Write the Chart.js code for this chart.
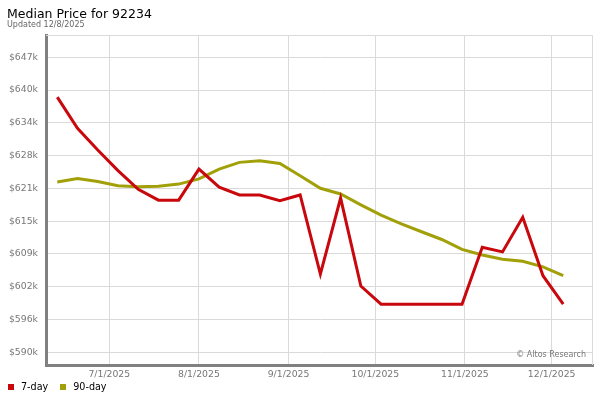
<!DOCTYPE html>
<html>
<head>
<meta charset="utf-8">
<title>Median Price for 92234</title>
<script src="https://cdn.jsdelivr.net/npm/chart.js@4.4.1/dist/chart.umd.min.js"></script>
<style>
    body { margin: 0; background: #fff; font-family: "DejaVu Sans", sans-serif; }
    #wrap { position: relative; width: 600px; height: 400px; }
    #wrap canvas { position: absolute; left: 0; top: 0; }
    .txt { position: absolute; white-space: nowrap; line-height: 1; }
    #title { left: 7px; top: 7.7px; font-size: 12.5px; color: #000; }
    #updated { left: 7px; top: 20.9px; font-size: 8px; color: #666; }
    #credit { right: 14px; top: 350.5px; font-size: 8px; color: #777; }
    #legend { left: 8px; top: 381.9px; font-size: 9.6px; color: #000; }
    #legend span.box { display: inline-block; width: 6px; height: 6px; margin-right: 7px; vertical-align: 0px; }
    #legend span.item { margin-right: 12px; }
</style>
</head>
<body>
<div id="wrap">
    <canvas id="priceChart" width="600" height="400"></canvas>
    <div class="txt" id="title">Median Price for 92234</div>
    <div class="txt" id="updated">Updated 12/8/2025</div>
    <div class="txt" id="credit">&copy; Altos Research</div>
    <div class="txt" id="legend"></div>
</div>
<script>
// weekly data points
var weeks = ['2025-06-13', '2025-06-20', '2025-06-27', '2025-07-04', '2025-07-11', '2025-07-18',
    '2025-07-25', '2025-08-01', '2025-08-08', '2025-08-15', '2025-08-22', '2025-08-29',
    '2025-09-05', '2025-09-12', '2025-09-19', '2025-09-26', '2025-10-03', '2025-10-10',
    '2025-10-17', '2025-10-24', '2025-10-31', '2025-11-07', '2025-11-14', '2025-11-21',
    '2025-11-28', '2025-12-05'];
var sevenDay = [639300, 633300, 629100, 625100, 621500, 619400, 619400, 625400, 621900, 620400,
    620400, 619300, 620400, 605100, 619800, 602800, 599300, 599300, 599300, 599300,
    599300, 610300, 609400, 616100, 604800, 599300];
var ninetyDay = [622900, 623600, 623000, 622200, 622000, 622100, 622500, 623500, 625400, 626700,
    627000, 626500, 624100, 621700, 620600, 618500, 616500, 614800, 613300, 611800,
    609900, 608800, 608000, 607600, 606500, 604800];

// axis ticks
var yTickValues = [590000, 596333, 602667, 609000, 615333, 621667, 628000, 634333, 640667, 647000];
var yTickLabels = ['$590k', '$596k', '$602k', '$609k', '$615k', '$621k', '$628k', '$634k', '$640k', '$647k'];
var xTickDates = ['2025-07-01', '2025-08-01', '2025-09-01', '2025-10-01', '2025-11-01', '2025-12-01'];
var xTickLabels = ['7/1/2025', '8/1/2025', '9/1/2025', '10/1/2025', '11/1/2025', '12/1/2025'];

var RED = 'rgb(200,8,12)';
var OLIVE = 'rgb(162,160,8)';
var GRID = '#dadada';
var AXIS = '#808080';
var TICK_FONT = { family: 'DejaVu Sans', size: 9.3 };

// no date adapter offline, so x is "days since 6/1/2025" on a linear scale
var day0 = Date.parse('2025-06-01');
var toDay = function(s) {
    return (Date.parse(s) - day0) / 86400000;
};

var toPoints = function(values) {
    return values.map(function(v, i) { return { x: toDay(weeks[i]), y: v }; });
};

// thin frame on top / right of the plot like the original
var framePlugin = {
    id: 'frame',
    beforeDatasetsDraw: function(chart) {
        var a = chart.chartArea, ctx = chart.ctx;
        ctx.save();
        ctx.strokeStyle = GRID;
        ctx.lineWidth = 1;
        ctx.beginPath();
        ctx.moveTo(a.left, a.top + 0.5);
        ctx.lineTo(a.right - 0.5, a.top + 0.5);
        ctx.lineTo(a.right - 0.5, a.bottom);
        ctx.stroke();
        ctx.restore();
    }
};

var chart = new Chart(document.getElementById('priceChart'), {
    type: 'line',
    data: {
        datasets: [{
            label: '7-day',
            data: toPoints(sevenDay),
            borderColor: RED,
            backgroundColor: RED,
            borderWidth: 3,
            pointRadius: 0,
            tension: 0
        }, {
            label: '90-day',
            data: toPoints(ninetyDay),
            borderColor: OLIVE,
            backgroundColor: OLIVE,
            borderWidth: 3,
            pointRadius: 0,
            tension: 0
        }]
    },
    options: {
        responsive: false,
        animation: false,
        events: [],
        layout: { padding: { left: 0, top: 35, right: 7, bottom: 0 } },
        plugins: {
            legend: { display: false },
            title: { display: false },
            tooltip: { enabled: false }
        },
        scales: {
            x: {
                type: 'linear',
                min: 8.1,
                max: 197.3,
                afterFit: function(scale) { scale.height = 35; },
                afterBuildTicks: function(scale) {
                    scale.ticks = xTickDates.map(function(d) { return { value: toDay(d) }; });
                },
                grid: { color: GRID, drawTicks: false },
                border: { color: AXIS, width: 3 },
                ticks: {
                    autoSkip: false,
                    maxRotation: 0,
                    padding: 4,
                    color: '#777',
                    font: TICK_FONT,
                    callback: function(v, i) { return xTickLabels[i]; }
                }
            },
            y: {
                min: 587550,
                max: 651310,
                afterFit: function(scale) { scale.width = 46; },
                afterBuildTicks: function(scale) {
                    scale.ticks = yTickValues.map(function(v) { return { value: v }; });
                },
                grid: { color: GRID, drawTicks: false },
                border: { color: AXIS, width: 3 },
                ticks: {
                    padding: 8,
                    color: '#777',
                    font: TICK_FONT,
                    callback: function(v, i) { return yTickLabels[i]; }
                }
            }
        }
    },
    plugins: [framePlugin]
});

// html legend built from the datasets
var legendEl = document.getElementById('legend');
chart.data.datasets.forEach(function(ds) {
    var item = document.createElement('span');
    item.className = 'item';
    item.innerHTML = '<span class="box" style="background:' + ds.borderColor + '"></span>' + ds.label;
    legendEl.appendChild(item);
});
</script>
</body>
</html>
